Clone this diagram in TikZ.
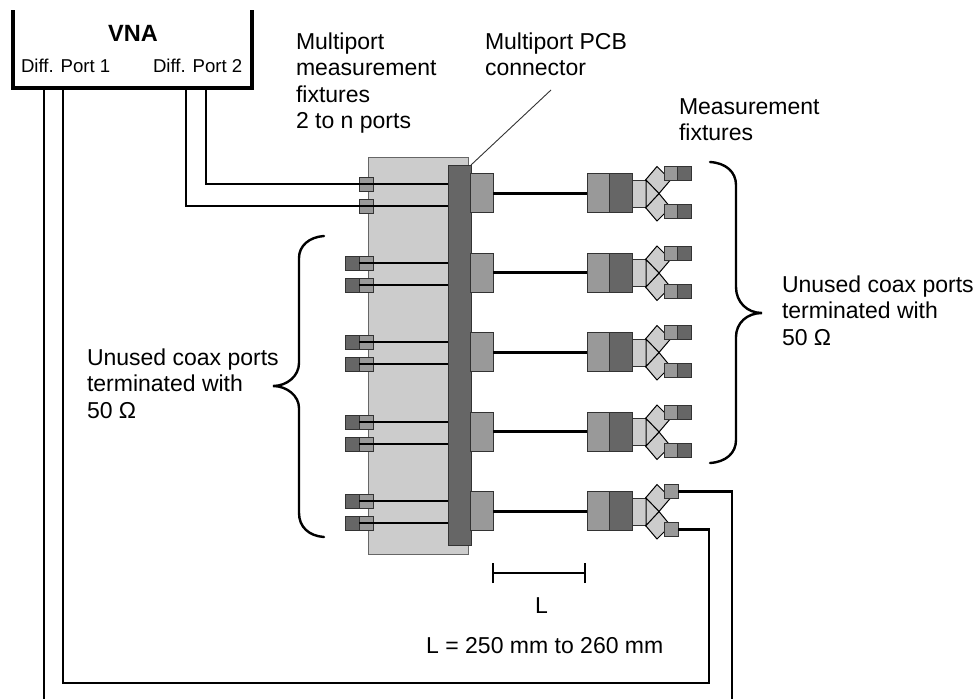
\documentclass[tikz,border=0pt]{standalone}
\usepackage{fontspec}
\setmainfont{Liberation Sans}
\definecolor{lightg}{HTML}{CCCCCC}
\definecolor{midg}{HTML}{999999}
\definecolor{darkg}{HTML}{666666}
\definecolor{edgeg}{HTML}{333333}
\tikzset{
  partbox/.style={draw=edgeg,line width=1pt,inner sep=0pt,outer sep=0pt,rectangle},
  lightbox/.style={partbox,fill=lightg},
  midbox/.style={partbox,fill=midg},
  darkbox/.style={partbox,fill=darkg},
  portg/.style={midbox,minimum width=14pt,minimum height=14pt},
  portd/.style={darkbox,minimum width=14pt,minimum height=14pt},
  coax/.style={draw=black,line width=2.6pt},
  coaxr/.style={draw=black,line width=3pt},
  wire/.style={draw=black,line width=2.9pt,line join=miter},
  bracecurve/.style={draw=black,line width=2.4pt,line cap=round},
  dimline/.style={draw=black,line width=1.7pt},
  lab/.style={inner sep=0pt,outer sep=0pt,align=left,anchor=north west,font=\fontsize{23}{26.6}\selectfont},
  small/.style={inner sep=0pt,outer sep=0pt,anchor=base west,font=\fontsize{18.6}{22}\selectfont},
}
\begin{document}
\begin{tikzpicture}[x=1pt,y=-1pt]
\useasboundingbox (0,0) rectangle (978,699);
% panel and connector bar
\node[lightbox,draw=darkg,minimum width=100pt,minimum height=397pt] (panel) at (418,355.5) {};
\node[darkbox,minimum width=23pt,minimum height=380pt] (bar) at (459.5,355) {};
% VNA
\coordinate (vnaTL) at (13,10);
\coordinate (vnaBL) at (13,88);
\coordinate (vnaBR) at (252,88);
\coordinate (vnaTR) at (252,10);
\draw[line width=4.4pt] (vnaTL) -- (vnaBL);
\draw[line width=4.4pt] (vnaTR) -- (vnaBR);
\draw[line width=4pt] ([xshift=-2pt]vnaBL) -- ([xshift=2pt]vnaBR);
\node[inner sep=0pt,anchor=base,font=\fontsize{23.5}{26}\selectfont\bfseries] (vna) at (133,41) {VNA};
\node[small] (dp1) at (21,72) {Diff. Port 1};
\node[small] (dp2) at (153,72) {Diff. Port 2};
% left ports
\foreach \n/\ya/\yb in {1/184/206,2/263/285,3/342/364,4/422/444,5/501/523}{
  \node[portg] (pa\n) at (366,\ya) {};
  \node[portg] (pb\n) at (366,\yb) {};
  \ifnum\n>1
    \node[portd] (da\n) at (352.5,\ya) {};
    \node[portd] (db\n) at (352.5,\yb) {};
    \draw[coax] (pa\n.west) -- (bar.west |- pa\n.west);
    \draw[coax] (pb\n.west) -- (bar.west |- pb\n.west);
  \fi
}
% rows on the right
\foreach \n/\c in {1/193,2/272.5,3/352,4/431.5,5/511}{
  \node[midbox,minimum width=22.5pt,minimum height=39pt] (blk\n) at (482.2,\c) {};
  \node[midbox,minimum width=22pt,minimum height=39pt] (fa\n) at (598,\c) {};
  \node[darkbox,minimum width=23pt,minimum height=39pt] (fb\n) at (620.5,\c) {};
  \node[lightbox,minimum width=14pt,minimum height=27pt] (fc\n) at (639,\c+0.5) {};
  \draw[coaxr] (blk\n.east) -- (fa\n.west);
  \draw[draw=black,fill=lightg,line width=1pt,line join=miter]
     (645.5,\c-13) -- (657,\c-26.5) -- (670.5,\c-13) -- (659,\c+0.5) -- cycle;
  \draw[draw=black,fill=lightg,line width=1pt,line join=miter]
     (645.5,\c+14.5) -- (657,\c+28) -- (670.5,\c+14.5) -- (659,\c+0.5) -- cycle;
  \draw[draw=black,fill=lightg,line width=1pt]
     (646,\c-13) -- (659,\c+0.5) -- (646,\c+14.5) -- cycle;
  \node[portg] (ua\n) at (671,\c-19.5) {};
  \node[portg] (la\n) at (671,\c+18.5) {};
  \ifnum\n<5
    \node[portd] (ub\n) at (684.5,\c-19.5) {};
    \node[portd] (lb\n) at (684.5,\c+18.5) {};
  \fi
}
% measured paths
\coordinate (w1a) at (206,88);
\coordinate (w1b) at (186,88);
\draw[wire] (w1a) |- (bar.west |- pa1.west);
\draw[wire] (w1b) |- (bar.west |- pb1.west);
\coordinate (w2a) at (44,88);
\coordinate (w2b) at (63,88);
\coordinate (w2ac) at (44,700);
\coordinate (w2bc) at (63,683);
\coordinate (w2ad) at (732,700);
\coordinate (w2bd) at (709,683);
\draw[wire] (w2a) -- (w2ac);
\draw[wire] (w2ad) |- (ua5.east);
\draw[wire] (w2b) -- (w2bc) -- (w2bd) |- (la5.east);
% leader
\coordinate (leadend) at (551,90);
\draw[line width=0.9pt,draw=edgeg] (bar.north east) -- (leadend);
% braces
\coordinate (lb0) at (324,236);
\coordinate (lb1) at (299,258);
\coordinate (lb2) at (299,363);
\coordinate (lbt) at (273,386);
\coordinate (lb3) at (299,408);
\coordinate (lb4) at (299,513);
\coordinate (lb5) at (324,537);
\draw[bracecurve] (lb0) .. controls (309,237) and (299,246) .. (lb1) -- (lb2)
   .. controls (299,376) and (287,386) .. (lbt)
   .. controls (287,386) and (299,396) .. (lb3) -- (lb4)
   .. controls (299,527) and (309,536) .. (lb5);
\coordinate (rb0) at (710,162);
\coordinate (rb1) at (736,185);
\coordinate (rb2) at (736,287);
\coordinate (rbt) at (762,313);
\coordinate (rb3) at (736,337);
\coordinate (rb4) at (736,440);
\coordinate (rb5) at (710,463);
\draw[bracecurve] (rb0) .. controls (726,163) and (736,172) .. (rb1) -- (rb2)
   .. controls (736,302) and (747,313) .. (rbt)
   .. controls (747,313) and (736,323) .. (rb3) -- (rb4)
   .. controls (736,453) and (726,462) .. (rb5);
% dimension
\coordinate (dl) at (493,573);
\coordinate (dr) at (585,573);
\draw[dimline] (dl) -- (dr);
\draw[dimline] ([yshift=-10pt]dl) -- ([yshift=10pt]dl);
\draw[dimline] ([yshift=-10pt]dr) -- ([yshift=10pt]dr);
% labels
\node[lab] (t1) at (296,32.4) {Multiport\\measurement\\fixtures\\2 to n ports};
\node[lab] (t2) at (485,32.4) {Multiport PCB\\connector};
\node[lab] (t3) at (679,98.4) {Measurement\\fixtures};
\node[lab] (t4) at (87,348.4) {Unused coax ports\\terminated with\\50 Ω};
\node[lab] (t5) at (782,275.4) {Unused coax ports\\terminated with\\50 Ω};
\node[inner sep=0pt,anchor=base west,font=\fontsize{23}{26}\selectfont] (t6) at (535,613) {L};
\node[inner sep=0pt,anchor=base west,font=\fontsize{23}{26}\selectfont] (t7) at (426,653) {L = 250 mm to 260 mm};
\end{tikzpicture}
\end{document}
